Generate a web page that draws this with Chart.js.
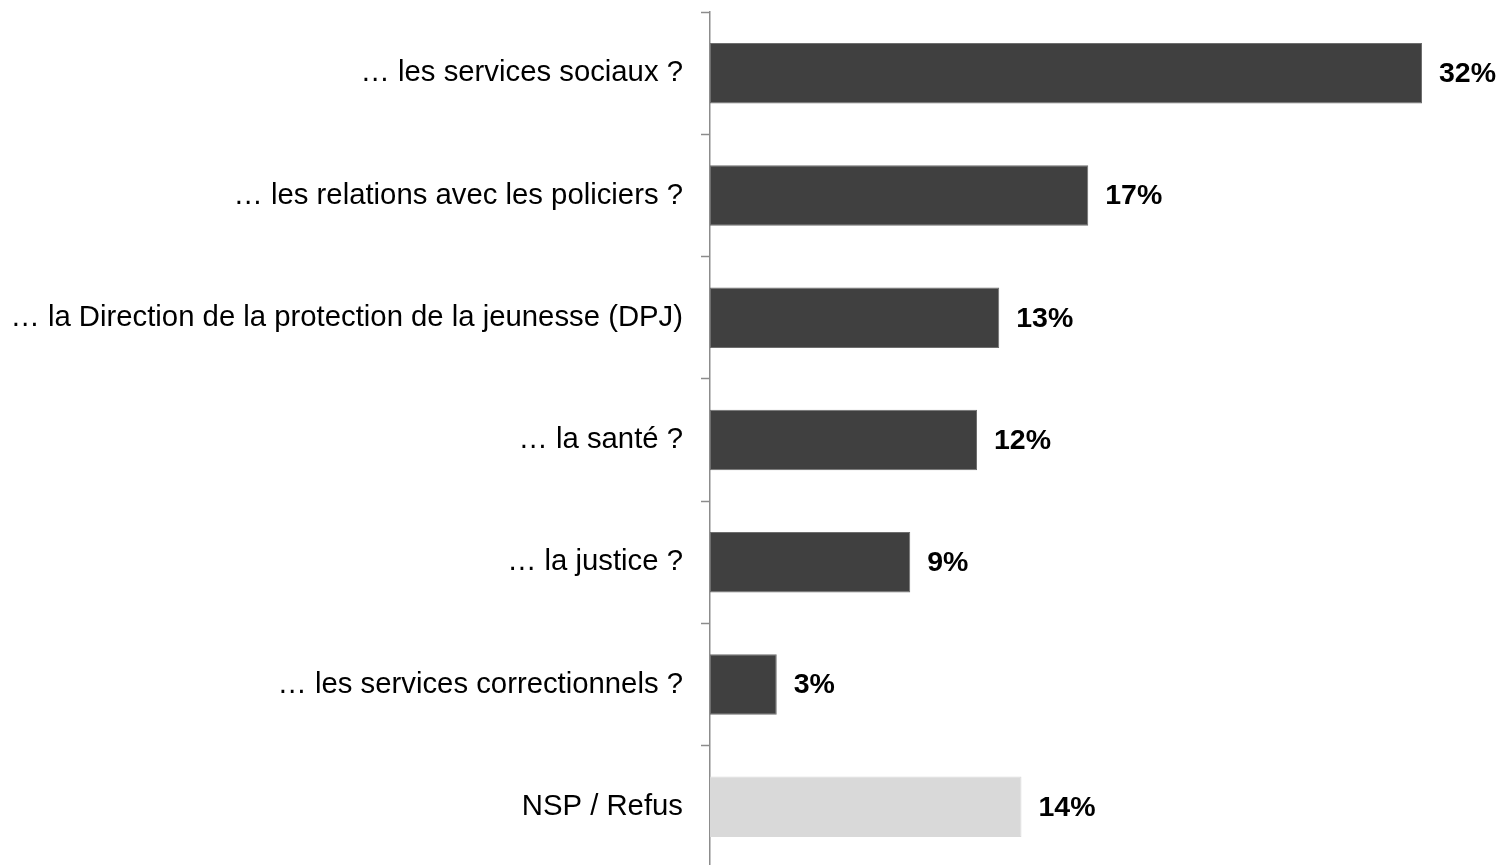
<!DOCTYPE html>
<html>
<head>
<meta charset="utf-8">
<script src="https://cdn.jsdelivr.net/npm/chart.js@4"></script>
<style>
html,body{margin:0;padding:0;background:#fff;overflow:hidden;}
#wrap{width:1500px;height:865px;overflow:hidden;}
</style>
</head>
<body>
<div id="wrap"><canvas id="c" width="1500" height="870"></canvas></div>
<script>
const categories = [
  "… les services sociaux ?",
  "… les relations avec les policiers ?",
  "… la Direction de la protection de la jeunesse (DPJ)",
  "… la santé ?",
  "… la justice ?",
  "… les services correctionnels ?",
  "NSP / Refus"
];
const values = [32, 17, 13, 12, 9, 3, 14];
const valueLabels = ["32%", "17%", "13%", "12%", "9%", "3%", "14%"];
const barColors = ["#404040", "#404040", "#404040", "#404040", "#404040", "#404040", "#d9d9d9"];

const FONT = "'Liberation Sans', Arial, Helvetica, sans-serif";

const valueLabelPlugin = {
  id: 'valueLabels',
  afterDatasetsDraw(chart) {
    const ctx = chart.ctx;
    const meta = chart.getDatasetMeta(0);
    ctx.save();
    ctx.font = "bold 28.5px " + FONT;
    ctx.fillStyle = "#000";
    ctx.textAlign = "left";
    ctx.textBaseline = "middle";
    meta.data.forEach((bar, i) => {
      ctx.fillText(valueLabels[i], bar.x + 17, bar.y + 1);
    });
    ctx.restore();
  }
};

new Chart(document.getElementById('c'), {
  type: 'bar',
  data: {
    labels: categories,
    datasets: [{
      data: values,
      backgroundColor: barColors,
      borderColor: barColors.map(c => c === "#404040" ? "#6e6e6e" : "#d9d9d9"),
      borderWidth: 1,
      borderSkipped: false,
      barPercentage: 0.495,
      categoryPercentage: 1
    }]
  },
  options: {
    indexAxis: 'y',
    responsive: false,
    animation: false,
    layout: { padding: { left: 0, right: 11.25, top: 12, bottom: 2 } },
    plugins: { legend: { display: false }, tooltip: { enabled: false } },
    scales: {
      x: {
        display: false,
        min: 0,
        max: 35
      },
      y: {
        afterFit(scale) { scale.width = 710; scale.paddingTop = 0; scale.paddingBottom = 0; },
        border: { display: true, color: "#8c8c8c", width: 1.5 },
        grid: {
          display: true,
          drawOnChartArea: false,
          drawTicks: true,
          tickLength: 9,
          tickWidth: 1.5,
          tickColor: "#8c8c8c",
          offset: true
        },
        ticks: {
          color: "#000",
          padding: 18,
          font: { family: FONT, size: 29.3 }
        }
      }
    }
  },
  plugins: [valueLabelPlugin]
});
</script>
</body>
</html>
